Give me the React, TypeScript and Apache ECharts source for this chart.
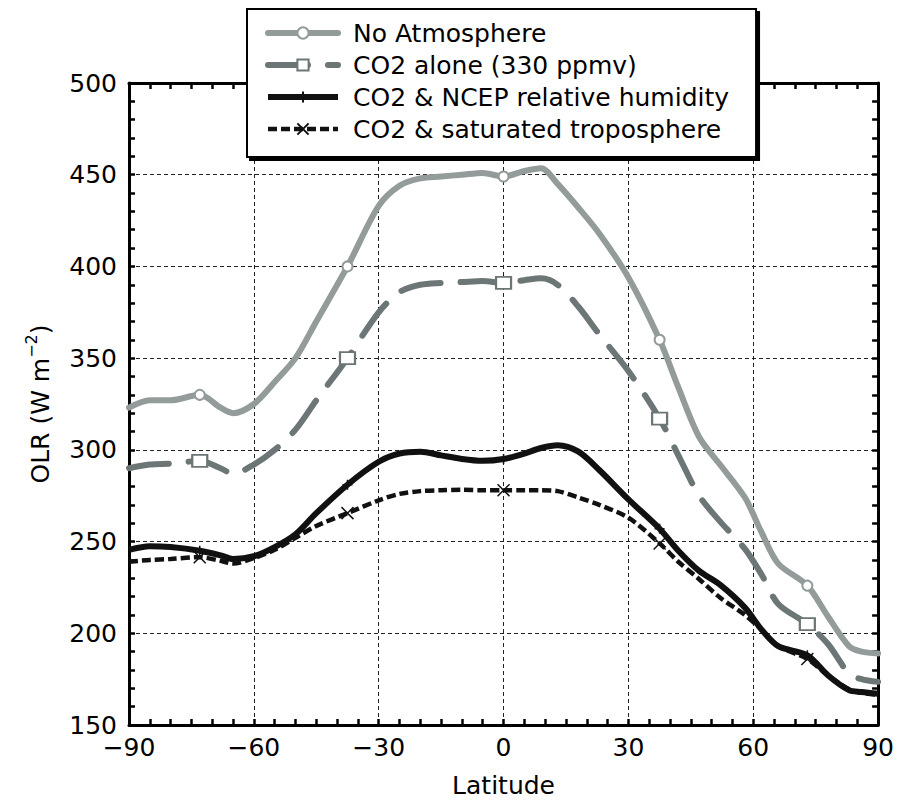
import React, { useEffect, useRef } from "react";
import * as echarts from "echarts";

const LAT = [-90, -85, -80, -73, -68, -65, -60, -55, -50, -45, -37.5, -30, -25, -20, -15, -10, -5, 0, 5, 9, 13, 18, 23, 30, 37.5, 42, 47, 52, 58, 62, 66, 73, 78, 83, 86, 90];
const NO_ATMOSPHERE = [323, 327, 327, 330, 323, 320, 325, 337, 350, 370, 400, 433, 444, 448, 449, 450, 451, 449, 452, 453.5, 445, 432, 418, 394, 360, 334, 307, 292, 274, 255, 238, 226, 209, 193, 190, 189];
const CO2_ALONE = [290, 292, 292.5, 294, 290, 287, 292, 300, 311, 327, 350, 375, 386, 390, 391, 391.5, 392, 391, 392.5, 393.5, 390, 378, 363, 343, 317, 297, 275, 261, 246, 232, 216, 205, 194, 178, 175, 173.5];
const CO2_NCEP = [245.5, 247.5, 247, 245, 242.5, 240.5, 242, 247, 254, 265.5, 281, 293.5, 298, 299, 297, 295, 294, 295, 298, 301, 302.5, 299, 289, 273, 257, 245, 234, 226.5, 214, 202, 193, 188, 177, 169, 168, 167];
const CO2_SATURATED = [239, 240, 240.5, 241.5, 239.5, 238, 241, 245.5, 252, 258.5, 265.5, 272.5, 276, 277.5, 278, 278.2, 278, 278, 278, 278, 277.5, 274, 270, 263, 249, 239, 229.5, 219.5, 210, 202, 193, 186, 177, 169.5, 167.5, 166.5];
const MARKER_LATS = [-73, -37.5, 0, 37.5, 73];
const SERIES_NAMES = ["No Atmosphere", "CO2 alone (330 ppmv)", "CO2 & NCEP relative humidity", "CO2 & saturated troposphere"];
const X_TICKS = { min: -90, max: 90, interval: 30 };
const Y_TICKS = { min: 150, max: 500, interval: 50 };

const FONT = "DejaVu Sans";

function build(values: number[]) {
  return LAT.map((x, i) =>
    MARKER_LATS.includes(x) ? { value: [x, values[i]] } : { value: [x, values[i]], symbol: "none" }
  );
}

const minus = (v: number) => (v < 0 ? "\u2212" + Math.abs(v) : String(v));

export default function App() {
  const ref = useRef<HTMLDivElement>(null);
  useEffect(() => {
    if (!ref.current) return;
    const chart = echarts.init(ref.current, null, { renderer: "svg" });
    const axisLine = { show: true, onZero: false, lineStyle: { color: "#000", width: 3 } };
    const tick = { show: true, inside: true, length: 6, lineStyle: { color: "#000", width: 2.5 } };
    const minorTick = { show: true, splitNumber: 5, length: 6, lineStyle: { color: "#000", width: 2.5 } };
    const minorTickX = { show: true, splitNumber: 6, length: 6, lineStyle: { color: "#000", width: 2.5 } };
    const split = { show: true, lineStyle: { color: "#222", width: 1, type: [4, 3] } };
    const labelStyle = { color: "#000", fontSize: 25, fontFamily: FONT };

    const styles = [
      { color: "#939b9b", width: 6, type: "solid", symbol: "emptyCircle", size: 10, cap: "round" },
      { color: "#6d7676", width: 6, type: [40, 20], symbol: "emptyRect", size: [15, 12], cap: "round" },
      { color: "#111", width: 6, type: "solid", symbol: "path://M5,0L5,10M0,5L10,5", size: 10, cap: "butt" },
      { color: "#111", width: 4.5, type: [9, 4], symbol: "path://M0,0L10,10M10,0L0,10", size: 12, cap: "butt" },
    ];
    const values = [NO_ATMOSPHERE, CO2_ALONE, CO2_NCEP, CO2_SATURATED];

    const series = SERIES_NAMES.map((name, i) => {
      const s = styles[i];
      return {
        name,
        type: "line",
        data: build(values[i]),
        smooth: 0.3,
        showSymbol: true,
        showAllSymbol: true,
        symbol: s.symbol,
        symbolSize: s.size,
        z: 2 + i,
        itemStyle: { color: s.color, borderColor: s.color, borderWidth: 1.5 },
        lineStyle: { color: s.color, width: s.width, type: s.type, cap: s.cap },
        emphasis: { disabled: true },
      };
    });

    chart.setOption({
      animation: false,
      backgroundColor: "#fff",
      grid: { left: 129, right: 17, top: 83, bottom: 78, containLabel: false },
      legend: {
        orient: "vertical",
        left: 247,
        top: 9,
        padding: [10, 27, 14, 18],
        itemGap: 4,
        itemWidth: 70,
        itemHeight: 14,
        backgroundColor: "#fff",
        borderColor: "#000",
        borderWidth: 2,
        borderRadius: 0,
        shadowColor: "#000",
        shadowBlur: 0,
        shadowOffsetX: 3,
        shadowOffsetY: 3,
        z: 20,
        selectedMode: false,
        textStyle: { color: "#000", fontSize: 25, fontFamily: FONT, lineHeight: 28, padding: [0, 0, 0, 10] },
        data: SERIES_NAMES.map((name, i) => ({
          name,
          lineStyle: { width: styles[i].width, type: styles[i].type, color: styles[i].color, cap: styles[i].cap },
        })),
      },
      xAxis: [
        {
          type: "value",
          ...X_TICKS,
          name: "Latitude",
          nameLocation: "middle",
          nameGap: 48,
          nameTextStyle: { ...labelStyle },
          axisLine,
          axisTick: tick,
          minorTick: minorTickX,
          splitLine: split,
          axisLabel: { ...labelStyle, margin: 10, formatter: minus },
        },
        {
          type: "value",
          position: "top",
          ...X_TICKS,
          axisLine,
          axisTick: tick,
          minorTick: minorTickX,
          splitLine: { show: false },
          axisLabel: { show: false },
        },
      ],
      yAxis: [
        {
          type: "value",
          ...Y_TICKS,
          name: "{a|OLR (W m}{b|\u22122}{a|)}",
          nameLocation: "middle",
          nameGap: 72,
          nameTextStyle: {
            rich: {
              a: { fontSize: 25, fontFamily: FONT, color: "#000", lineHeight: 34, verticalAlign: "middle" },
              b: { fontSize: 16, fontFamily: FONT, color: "#000", lineHeight: 18, verticalAlign: "top" },
            },
          },
          axisLine,
          axisTick: tick,
          minorTick,
          splitLine: split,
          axisLabel: { ...labelStyle, margin: 12 },
        },
        {
          type: "value",
          position: "right",
          ...Y_TICKS,
          axisLine,
          axisTick: tick,
          minorTick,
          splitLine: { show: false },
          axisLabel: { show: false },
        },
      ],
      series,
    });
    return () => chart.dispose();
  }, []);
  return <div ref={ref} style={{ position: "absolute", left: 0, top: 0, width: 897, height: 803 }} />;
}
